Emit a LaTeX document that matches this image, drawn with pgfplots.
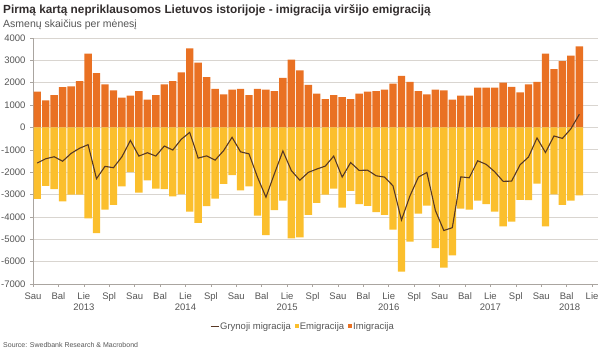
\documentclass[border=0pt]{standalone}
\usepackage{pgfplots}
\usepackage{pgfplotstable}
\pgfplotsset{compat=1.18}
\usepackage{fontspec}
\setmainfont{Liberation Sans}
\definecolor{imig}{RGB}{233,113,35}
\definecolor{emig}{RGB}{251,191,45}
\definecolor{netc}{RGB}{88,56,36}
\definecolor{gridc}{RGB}{217,213,208}
\definecolor{axc}{RGB}{170,165,160}
\definecolor{txt}{RGB}{85,85,85}
\definecolor{ttl}{RGB}{50,45,45}

\pgfplotstableread{
x imm emi net
0 1600 -3190 -1590
1 1210 -2610 -1400
2 1450 -2760 -1310
3 1800 -3310 -1510
4 1840 -3000 -1160
5 2070 -3000 -930
6 3300 -4070 -770
7 2430 -4720 -2290
8 1930 -3670 -1740
9 1660 -3460 -1800
10 1330 -2640 -1310
11 1420 -2000 -580
12 1630 -2910 -1280
13 1240 -2370 -1130
14 1450 -2730 -1280
15 1930 -2760 -830
16 2070 -3080 -1010
17 2460 -2990 -530
18 3540 -3760 -220
19 2900 -4270 -1370
20 2250 -3520 -1270
21 1720 -3180 -1460
22 1480 -2520 -1040
23 1690 -2130 -440
24 1720 -2810 -1090
25 1450 -2630 -1180
26 1720 -3940 -2220
27 1690 -4810 -3120
28 1630 -3700 -2070
29 2220 -3270 -1050
30 3030 -4960 -1930
31 2550 -4910 -2360
32 1900 -3910 -2010
33 1510 -3370 -1860
34 1270 -3000 -1730
35 1450 -2730 -1280
36 1360 -3580 -2220
37 1270 -2840 -1570
38 1510 -3430 -1920
39 1600 -3510 -1910
40 1630 -3790 -2160
41 1690 -3910 -2220
42 1960 -4570 -2610
43 2310 -6450 -4140
44 2040 -5100 -3060
45 1630 -3850 -2220
46 1480 -3490 -2010
47 1690 -5400 -3710
48 1660 -6270 -4610
49 1240 -5720 -4480
50 1420 -3630 -2210
51 1420 -3670 -2250
52 1780 -3270 -1490
53 1780 -3430 -1650
54 1780 -3760 -1980
55 2010 -4420 -2410
56 1810 -4210 -2400
57 1570 -3240 -1670
58 1930 -3250 -1320
59 2040 -2510 -470
60 3300 -4420 -1120
61 2610 -2990 -380
62 2970 -3460 -490
63 3210 -3270 -60
64 3630 -3040 590
}\data

\begin{document}
\begin{tikzpicture}
\path[use as bounding box] (0pt,0pt) rectangle (600pt,351pt);
\node[anchor=base west, inner sep=0pt, font=\fontsize{11.8}{14}\selectfont\bfseries, text=ttl] at (3pt,337pt) {Pirmą kartą nepriklausomos Lietuvos istorijoje - imigracija viršijo emigraciją};
\node[anchor=base west, inner sep=0pt, font=\fontsize{10.5}{12}\selectfont, text=txt] at (3pt,323pt) {Asmenų skaičius per mėnesį};
\node[anchor=base west, inner sep=0pt, font=\fontsize{7}{8}\selectfont, text=txt] at (3pt,4pt) {Source: Swedbank Research \& Macrobond};
\begin{axis}[
  at={(33pt,67pt)}, anchor=south west,
  scale only axis, width=565pt, height=246pt,
  xmin=-0.5, xmax=66.2, ymin=-7000, ymax=4000,
  clip=false,
  axis x line*=bottom, axis y line*=left,
  axis line style={draw=axc, line width=0.7pt, -},
  ytick={-7000,-6000,...,4000},
  yticklabels={-7000,-6000,-5000,-4000,-3000,-2000,-1000,0,1000,2000,3000,4000},
  xtick={-0.5,2.5,...,65.5},
  xticklabels={Sau,Bal,Lie,Spl,Sau,Bal,Lie,Spl,Sau,Bal,Lie,Spl,Sau,Bal,Lie,Spl,Sau,Bal,Lie,Spl,Sau,Bal,Lie},
  ymajorgrids, grid style={draw=gridc, line width=0.8pt},
  tick align=outside, major tick length=3pt,
  tick style={draw=axc, line width=0.6pt},
  ticklabel style={font=\fontsize{9.5}{11}\selectfont, text=txt},
  yticklabel style={anchor=east, xshift=-1pt},
  xticklabel style={anchor=north, yshift=-2pt},
  legend style={at={(0.477,-0.175)}, anchor=center, draw=none, fill=none,
    legend columns=-1, font=\fontsize{9.5}{11}\selectfont, text=txt,
    /tikz/every even column/.append style={column sep=3pt},
    nodes={inner sep=1pt}},
  reverse legend,
]
\addplot[ybar, bar width=7.4pt, bar shift=0pt, fill=imig, draw=none,
  legend image code/.code={\fill[imig] (0pt,-1pt) rectangle (4pt,3pt);}]
  table[x=x,y=imm]{\data};
\addlegendentry{Imigracija}
\addplot[ybar, bar width=7.4pt, bar shift=0pt, fill=emig, draw=none,
  legend image code/.code={\fill[emig] (0pt,-1pt) rectangle (4pt,3pt);}]
  table[x=x,y=emi]{\data};
\addlegendentry{Emigracija}
\addplot[netc, line width=1.1pt, mark=none,
  legend image code/.code={\draw[netc, line width=1pt] (0pt,1pt) -- (8pt,1pt);}]
  table[x=x,y=net]{\data};
\addlegendentry{Grynoji migracija}
\foreach \xx/\yy in {5.5/2013,17.5/2014,29.5/2015,41.5/2016,53.5/2017,62.85/2018}{
  \edef\temp{\noexpand\node[anchor=north, font=\noexpand\fontsize{9.5}{11}\noexpand\selectfont, text=txt, inner sep=0pt] at (axis cs:\xx,-7000) [yshift=-20pt] {\yy};}
  \temp
}
\end{axis}
\end{tikzpicture}
\end{document}
